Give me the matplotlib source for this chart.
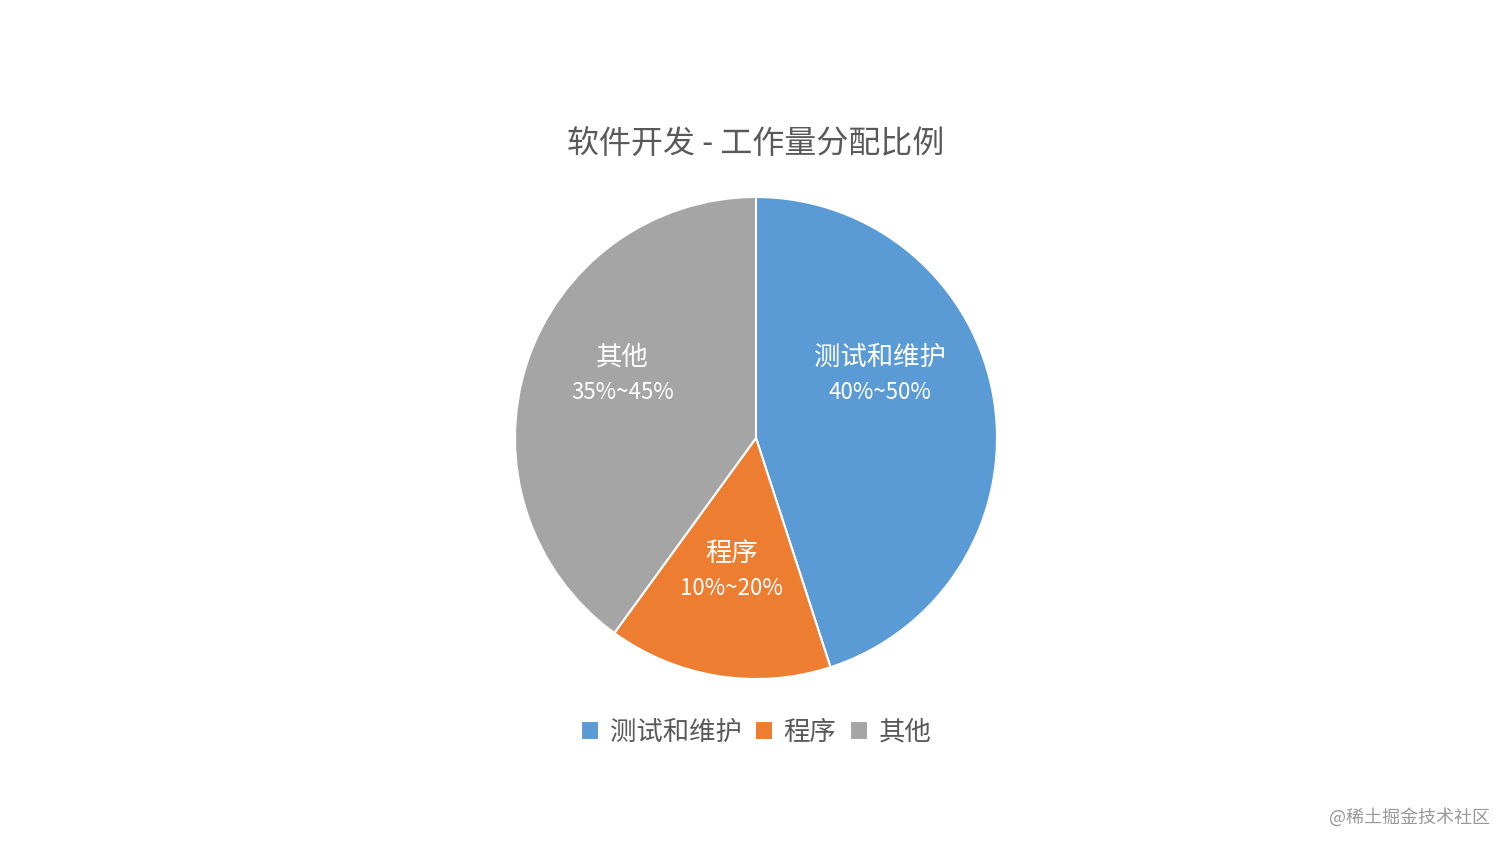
import matplotlib
matplotlib.use("Agg")
import matplotlib.pyplot as plt

plt.rcParams['font.family'] = ['Noto Sans CJK SC', 'DejaVu Sans']

# data
categories = ["测试和维护", "程序", "其他"]
shares = [45, 15, 40]
ranges = ["40%~50%", "10%~20%", "35%~45%"]
colors = ["#5B9BD5", "#ED7D31", "#A5A5A5"]
label_pos = [(0.515, 0.26), (-0.10, -0.555), (-0.555, 0.26)]

W, H = 1512, 851
fig = plt.figure(figsize=(W / 100, H / 100), dpi=100)
cx, cy, r = 756, 438, 241
ax = fig.add_axes([(cx - r) / W, (H - cy - r) / H, 2 * r / W, 2 * r / H])

wedges, _ = ax.pie(shares, colors=colors, startangle=90, counterclock=False,
                   radius=1, wedgeprops=dict(edgecolor="white", linewidth=1.5))
ax.set_xlim(-1, 1)
ax.set_ylim(-1, 1)
ax.set_aspect("equal")
ax.axis("off")

for name, rng, (x, y) in zip(categories, ranges, label_pos):
    ax.text(x, y + 0.075, name, ha="center", va="center", color="white", fontsize=19)
    ax.text(x, y - 0.07, rng, ha="center", va="center", color="white", fontsize=16)

fig.text(0.5, 1 - 145 / H, "软件开发 - 工作量分配比例", ha="center", va="center",
         color="#595959", fontsize=23)

fig.legend(wedges, categories, loc="center", bbox_to_anchor=(0.5, 1 - 732 / H),
           ncol=3, frameon=False, fontsize=19, handlelength=0.7, handleheight=0.7,
           handletextpad=0.4, columnspacing=0.5, labelcolor="#595959")

fig.text(1 - 22 / W, 1 - 817 / H, "@稀土掘金技术社区", ha="right", va="center",
         color="#999999", fontsize=13)

fig.savefig("out.png", dpi=100, facecolor="white")
